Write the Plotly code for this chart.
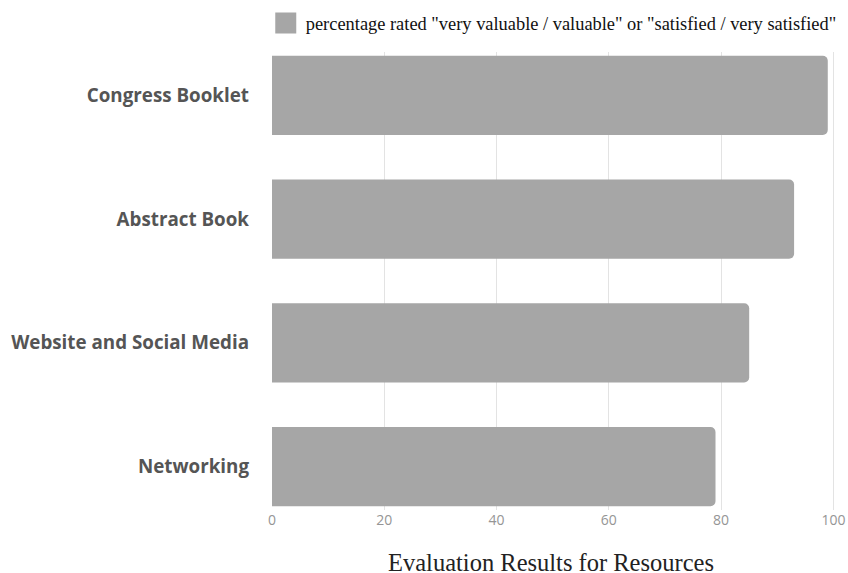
import plotly.graph_objects as go

categories = ["Congress Booklet", "Abstract Book", "Website and Social Media", "Networking"]
values = [99, 93, 85, 79]
x_ticks = [0, 20, 40, 60, 80, 100]
legend_label = 'percentage rated "very valuable / valuable" or "satisfied / very satisfied"'
chart_title = "Evaluation Results for Resources"

BAR = "#a6a6a6"

fig = go.Figure()
fig.add_trace(go.Bar(
    y=categories, x=values, orientation="h",
    marker=dict(color=BAR, line=dict(width=0)),
    width=0.64, showlegend=False, hoverinfo="x+y",
))
fig.add_trace(go.Scatter(
    x=[None], y=[None], mode="markers", name=legend_label,
    marker=dict(symbol="square", size=16, color=BAR, line=dict(color=BAR, width=5)),
    showlegend=True,
))

fig.update_layout(
    width=848, height=573,
    margin=dict(l=272, r=9, t=52, b=63, autoexpand=False),
    paper_bgcolor="white", plot_bgcolor="white",
    barcornerradius=5,
    showlegend=True,
    legend=dict(
        x=-0.011, xanchor="left", y=1.063, yanchor="middle",
        orientation="h", bgcolor="rgba(0,0,0,0)",
        font=dict(family="Liberation Serif", size=18.4, color="#111"),
        itemsizing="trace",
    ),
    title=dict(
        text=chart_title, x=551 / 848, xanchor="center", xref="container",
        y=0.018, yanchor="middle", yref="container", automargin=False,
        font=dict(family="Liberation Serif", size=24.5, color="#222"),
    ),
    xaxis=dict(
        range=[0, 101], tickvals=x_ticks, showgrid=True, automargin=False,
        gridcolor="#e3e3e3", gridwidth=1, zeroline=False, showline=False,
        tickfont=dict(family="Open Sans", size=14, color="#959595"),
        ticks="", fixedrange=True, ticklabeloverflow="allow",
    ),
    yaxis=dict(
        categoryorder="array", categoryarray=categories, automargin=False,
        range=[3.35, -0.35], showgrid=False, zeroline=False, showline=False,
        fixedrange=True,
        tickfont=dict(family="Open Sans", size=18.8, color="#555555", weight="bold"),
        ticks="", ticklabelstandoff=22,
    ),
)

fig.write_html(
    "out.html",
    config={"displayModeBar": False},
    post_script="document.body.style.margin='0';document.body.style.overflow='hidden';",
)
